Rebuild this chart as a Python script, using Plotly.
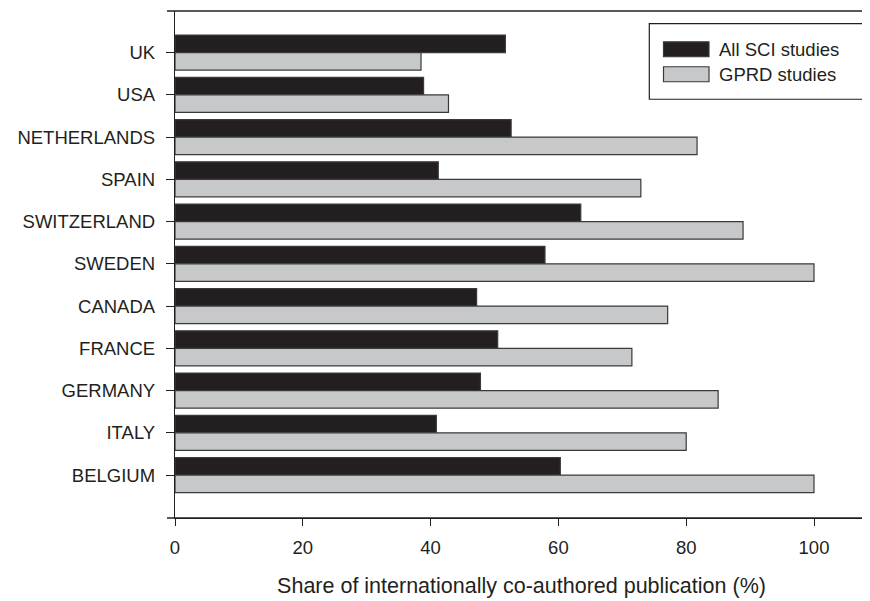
import plotly.graph_objects as go

countries = ["UK", "USA", "NETHERLANDS", "SPAIN", "SWITZERLAND", "SWEDEN",
             "CANADA", "FRANCE", "GERMANY", "ITALY", "BELGIUM"]
all_sci = [51.7, 38.9, 52.6, 41.2, 63.5, 57.9, 47.2, 50.5, 47.8, 40.9, 60.3]
gprd = [38.5, 42.8, 81.7, 72.9, 88.9, 100.0, 77.1, 71.5, 85.0, 80.0, 100.0]
series_names = ["All SCI studies", "GPRD studies"]
x_ticks = [0, 20, 40, 60, 80, 100]

BLACK = "#231f20"
GRAY = "#c7c8ca"
EDGE = "#3a3a3a"
FONT = "Liberation Sans, Arial, sans-serif"

# page has an 8px body margin; figure coordinates are page coordinates - 8
OFF = 8
W, H = 870 - OFF, 601 - OFF
L, R, T, B = 175 - OFF, 868 - OFF, 10.7 - OFF, 518 - OFF


def px(x):
    return (x - OFF - L) / (R - L)


def py(y):
    return (B - (y - OFF)) / (B - T)


fig = go.Figure()
fig.add_trace(go.Bar(y=countries, x=all_sci, orientation="h", name=series_names[0],
                     marker=dict(color=BLACK, line=dict(color=EDGE, width=1.2)),
                     showlegend=False))
fig.add_trace(go.Bar(y=countries, x=gprd, orientation="h", name=series_names[1],
                     marker=dict(color=GRAY, line=dict(color=EDGE, width=1.2)),
                     showlegend=False))

shapes = []
# axis lines extended slightly to the left (top and bottom)
for yy in (0, 1):
    shapes.append(dict(type="line", xref="paper", yref="paper", x0=px(167), x1=1,
                       y0=yy, y1=yy, line=dict(color=BLACK, width=1.3)))
# manual legend (page pixel coordinates)
shapes.append(dict(type="rect", xref="paper", yref="paper",
                   x0=px(649.3), x1=px(864), y0=py(99), y1=py(23.3),
                   line=dict(color=BLACK, width=1.2), fillcolor="white"))
shapes.append(dict(type="rect", xref="paper", yref="paper",
                   x0=px(663.5), x1=px(709), y0=py(56.5), y1=py(41.5),
                   line=dict(color=EDGE, width=1.2), fillcolor=BLACK))
shapes.append(dict(type="rect", xref="paper", yref="paper",
                   x0=px(663.5), x1=px(709), y0=py(81.5), y1=py(66.5),
                   line=dict(color=EDGE, width=1.2), fillcolor=GRAY))
annotations = [
    dict(text=series_names[0], xref="paper", yref="paper", x=px(717), y=py(49),
         xanchor="left", yanchor="middle", showarrow=False,
         font=dict(family=FONT, size=18.5, color=BLACK)),
    dict(text=series_names[1], xref="paper", yref="paper", x=px(717), y=py(74),
         xanchor="left", yanchor="middle", showarrow=False,
         font=dict(family=FONT, size=18.5, color=BLACK)),
]

fig.update_layout(
    width=W, height=H,
    margin=dict(l=L, r=W - R, t=T, b=H - B, pad=0),
    paper_bgcolor="white", plot_bgcolor="white",
    barmode="group", bargap=0.172, bargroupgap=0,
    font=dict(family=FONT, size=18, color=BLACK),
    shapes=shapes, annotations=annotations,
    xaxis=dict(range=[0, 108.45], tickvals=x_ticks, ticks="outside", ticklen=7,
               tickwidth=1.3, tickcolor=BLACK, showline=True, linecolor=BLACK,
               linewidth=1.3, showgrid=False, zeroline=False, ticklabelstandoff=6,
               tickfont=dict(family=FONT, size=18.5, color=BLACK),
               title=dict(text="Share of internationally co-authored publication (%)",
                          font=dict(family=FONT, size=21.5, color=BLACK), standoff=20)),
    yaxis=dict(type="category", categoryorder="array", categoryarray=countries,
               range=[11.016, -0.984], ticks="outside", ticklen=8, tickwidth=1.3,
               tickcolor=BLACK, showline=True, linecolor=BLACK, linewidth=1.3,
               showgrid=False, zeroline=False, ticklabelstandoff=7,
               tickfont=dict(family=FONT, size=18.5, color=BLACK)),
)

fig.write_html("out.html")
